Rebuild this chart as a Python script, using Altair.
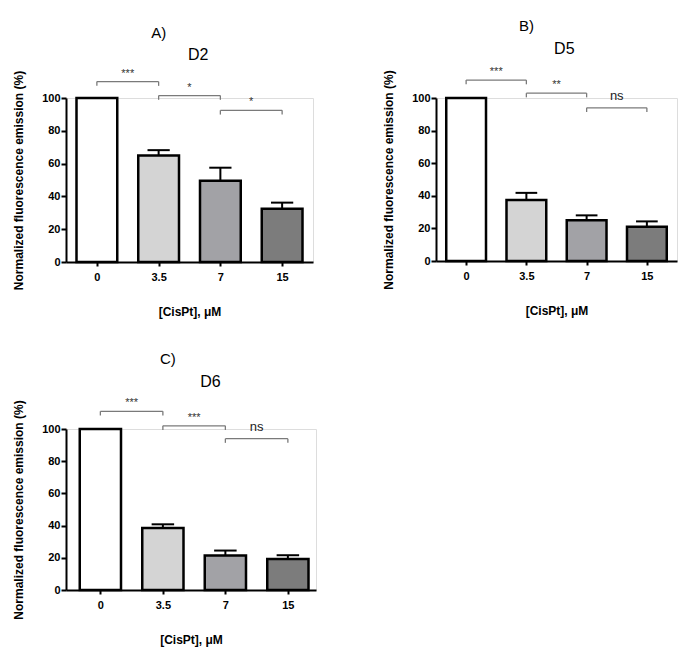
import altair as alt
import pandas as pd

FONT = "Liberation Sans"

categories = ["0", "3.5", "7", "15"]
fills = ["#ffffff", "#d4d4d4", "#a2a2a6", "#7c7c7c"]

# Panel A (D2)
a_means = [100, 65, 49.5, 32.5]
a_errs = [0, 3.2, 8, 3.7]
a_sig = ["***", "*", "*"]
a_br_y = [110, 101.5, 92.5]

# Panel B (D5)
b_means = [100, 37.5, 25, 21]
b_errs = [0, 4.3, 3, 3.3]
b_sig = ["***", "**", "ns"]
b_br_y = [111, 103, 94]

# Panel C (D6)
c_means = [100, 38.5, 21.5, 19.3]
c_errs = [0, 2.3, 3, 2.3]
c_sig = ["***", "***", "ns"]
c_br_y = [111, 102, 94]

y_ticks = [0, 20, 40, 60, 80, 100]
label_expr = "[" + ",".join(f"'{c}'" for c in categories) + "][datum.value]"


def panel(letter, name, means, errs, sig, br_y, letter_pos, name_pos, width, height, xdom):
    bars = pd.DataFrame({"cat": categories, "idx": list(range(len(categories))),
                         "mean": means, "err": errs, "fill": fills})
    brackets = pd.DataFrame({"start": [0, 1, 2], "end": [1, 2, 3], "y": br_y, "label": sig})
    titles = pd.DataFrame({"x": [letter_pos[0], name_pos[0]], "y": [letter_pos[1], name_pos[1]],
                           "t": [letter, name], "size": [15, 16]})

    xs = alt.Scale(domain=xdom, nice=False, zero=False)
    ys = alt.Scale(domain=[0, 100], nice=False)
    x_axis = alt.Axis(values=[0, 1, 2, 3], labelExpr=label_expr, title="[CisPt], μM",
                      grid=False, tickSize=4, labelPadding=5, titlePadding=24)
    y_axis = alt.Axis(values=y_ticks, title="Normalized fluorescence emission (%)",
                      grid=False, tickSize=5, labelPadding=1, titlePadding=16)

    def X(f):
        return alt.X(f, scale=xs, axis=x_axis)

    def Y(f):
        return alt.Y(f, scale=ys, axis=y_axis)

    base = alt.Chart(bars).transform_calculate(
        x1="datum.idx - 0.33", x2="datum.idx + 0.33", top="datum.mean + datum.err",
        c1="datum.idx - 0.18", c2="datum.idx + 0.18", zero="0")

    bar = base.mark_bar(stroke="black", strokeWidth=2.5).encode(
        x=X("x1:Q"), x2="x2:Q", y=Y("mean:Q"), y2="zero:Q",
        fill=alt.Fill("fill:N", scale=None),
    )
    eb = base.transform_filter("datum.err > 0").mark_rule(color="black", strokeWidth=2).encode(
        x=X("idx:Q"), y=Y("mean:Q"), y2="top:Q")
    cap = base.transform_filter("datum.err > 0").mark_rule(color="black", strokeWidth=2).encode(
        x=X("c1:Q"), x2="c2:Q", y=Y("top:Q"))

    bb = alt.Chart(brackets).transform_calculate(ylow="datum.y - 2.6", mid="(datum.start + datum.end) / 2")
    br_h = bb.mark_rule(color="#7a7a7a", strokeWidth=1.3).encode(x=X("start:Q"), x2="end:Q", y=Y("y:Q"))
    br_l = bb.mark_rule(color="#7a7a7a", strokeWidth=1.3).encode(x=X("start:Q"), y=Y("y:Q"), y2="ylow:Q")
    br_r = bb.mark_rule(color="#7a7a7a", strokeWidth=1.3).encode(x=X("end:Q"), y=Y("y:Q"), y2="ylow:Q")
    stars = bb.transform_filter("datum.label != 'ns'").mark_text(
        font=FONT, fontSize=11, color="#333333", baseline="middle", dy=-8).encode(
        x=X("mid:Q"), y=Y("y:Q"), text="label:N")
    ns = bb.transform_filter("datum.label == 'ns'").mark_text(
        font=FONT, fontSize=13, color="#222222", baseline="middle", dy=-12).encode(
        x=X("mid:Q"), y=Y("y:Q"), text="label:N")

    tt = alt.Chart(titles).mark_text(font=FONT, color="black", baseline="middle").encode(
        x=X("x:Q"), y=Y("y:Q"), text="t:N", size=alt.Size("size:Q", scale=None))

    return alt.layer(bar, eb, cap, br_h, br_l, br_r, stars, ns, tt).properties(
        width=width, height=height)


pa = panel("A)", "D2", a_means, a_errs, a_sig, a_br_y, (1.0, 139.6), (1.64, 126), 247, 164, [-0.5, 3.5])
pb = panel("B)", "D5", b_means, b_errs, b_sig, b_br_y, (1.0, 143.9), (1.63, 130), 241, 163, [-0.5, 3.5])
pc = panel("C)", "D6", c_means, c_errs, c_sig, c_br_y, (1.08, 143.5), (1.76, 129), 250, 161, [-0.55, 3.45])

chart = alt.vconcat(
    alt.hconcat(pa, pb, spacing=68),
    pc,
    spacing=33,
).properties(
    padding={"left": 4, "top": 10, "right": 5, "bottom": 5}
).configure_view(stroke=None).configure(background="white").configure_axis(
    domainWidth=2, domainColor="black", tickWidth=2, tickColor="black",
    labelOverlap=False, labelFont=FONT, labelFontWeight="bold", labelFontSize=11,
    labelColor="black", titleFont=FONT, titleFontWeight="bold", titleFontSize=12,
    titleColor="black")

chart.save("out.html", embed_options={"renderer": "svg", "actions": False})
